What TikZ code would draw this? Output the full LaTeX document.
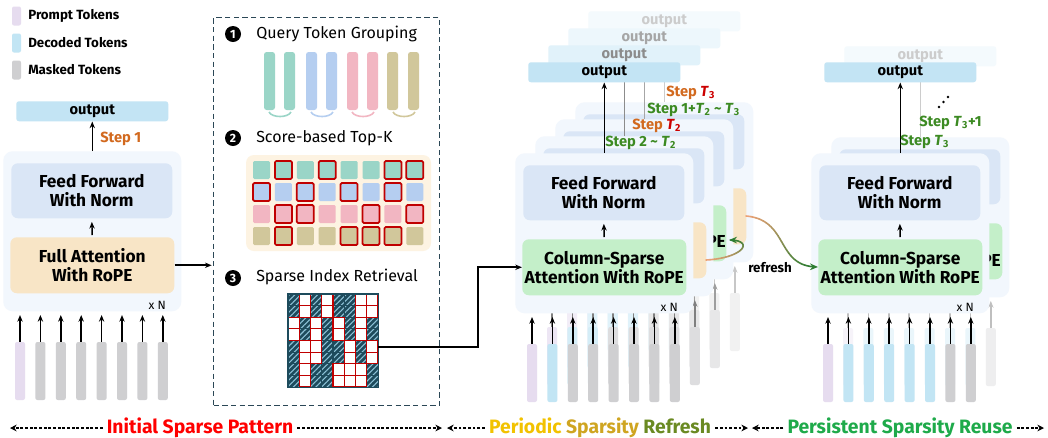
\documentclass[tikz,border=0pt]{standalone}
\usepackage{fontspec}
\setmainfont{Fira Sans}
\usetikzlibrary{arrows.meta,patterns.meta,calc}
\definecolor{contc}{HTML}{F2F7FD}
\definecolor{ffc}{HTML}{DAE6F6}
\definecolor{fac}{HTML}{F8E5C6}
\definecolor{csc}{HTML}{C4EFC9}
\definecolor{outc}{HTML}{C3E4F4}
\definecolor{tokP}{HTML}{E6DCEF}
\definecolor{tokD}{HTML}{C2E5F4}
\definecolor{tokM}{HTML}{CFCFD1}
\definecolor{stg}{HTML}{3C8A22}
\definecolor{sto}{HTML}{D2691E}
\definecolor{str}{HTML}{CC0000}
\definecolor{qa}{HTML}{9AD5C7}
\definecolor{qb}{HTML}{B5CEF0}
\definecolor{qc}{HTML}{F2B6C2}
\definecolor{qd}{HTML}{D1C79B}
\definecolor{selc}{HTML}{C00000}
\definecolor{gridc}{HTML}{1D4B5C}
\definecolor{hatchc}{HTML}{8EC3D8}
\definecolor{dashc}{HTML}{2B4756}
\definecolor{scbg}{HTML}{FDF3E2}
\definecolor{rfo}{HTML}{EBA277}
\definecolor{rfg}{HTML}{2E7D32}
\definecolor{redt}{HTML}{FF0000}
\definecolor{pery}{HTML}{F2C200}
\definecolor{spar}{HTML}{CFA521}
\definecolor{refr}{HTML}{6A8A22}
\definecolor{pers}{HTML}{1EAA4A}
\newcommand{\Tt}[2]{\textcolor{#1}{\textit{T}\textsubscript{#2}}}
% #1 prefix, #2 #3 shift, #4 attention fill, #5 attention text, #6 output y, #7 output fill, #8 output/arrow colour, #9 front flag
\newcommand{\blk}[9]{%
\begin{scope}[shift={(#2,#3)}, name prefix=#1]
\node[cont] (cont) at (0,0) {};
\node[ffb] (ff) at (8,12) {\ifnum#9=1 Feed Forward\\With Norm\fi};
\node[attb, fill=#4] (att) at (7,86) {#5};
\draw[arr, shorten >=2.5pt, shorten <=1.5pt] (att.north) -- (ff.south);
\ifnum#9=1 \node[xn] (xn) at (163,154) {x N};\fi
\node[outb, fill=#7, text=#8] (out) at (13,#6) {output};
\draw[arr, draw=#8] (cont.north) -- (cont.north |- out.south);
\end{scope}}
\newcommand{\tokrow}[6]{%
\begin{scope}[shift={(#2,#3)}, name prefix=#1]
\foreach \tc [count=\i from 0] in {#5}{
 \node[tok, fill=tok\tc!#4!white] (tk\i) at ({17+20.4*\i},220) {};
 \coordinate (ta\i) at ({17+20.4*\i},164);
 \draw[arr, draw=#6] (tk\i.north) -- (ta\i);
}
\end{scope}}
\begin{document}
\begin{tikzpicture}[x=0.75pt,y=-0.75pt,
 cont/.style={anchor=north west, minimum width=178*0.75pt, minimum height=160*0.75pt, rounded corners=7pt, fill=contc, inner sep=0pt},
 ffb/.style={anchor=north west, minimum width=161*0.75pt, minimum height=55*0.75pt, rounded corners=5pt, fill=ffc, align=center, inner sep=0pt, font=\bfseries\fontsize{13}{14.5}\selectfont},
 attb/.style={anchor=north west, minimum width=164*0.75pt, minimum height=56*0.75pt, rounded corners=5pt, align=center, inner sep=0pt, font=\bfseries\fontsize{13}{14.5}\selectfont},
 outb/.style={anchor=north west, minimum width=152*0.75pt, minimum height=20*0.75pt, rounded corners=2pt, inner sep=0pt, font=\bfseries\fontsize{11}{12}\selectfont},
 xn/.style={anchor=east, inner sep=0pt, font=\fontsize{9}{10}\selectfont},
 tok/.style={minimum width=10*0.75pt, minimum height=58*0.75pt, rounded corners=1.5pt, inner sep=0pt},
 arr/.style={line width=1.1pt, -{Stealth[length=5pt,width=4pt]}},
 lab/.style={anchor=west, inner sep=0pt, font=\bfseries\fontsize{11}{12}\selectfont},
 pe/.style={inner sep=0pt, font=\bfseries\fontsize{13}{14.5}\selectfont},
 legb/.style={minimum width=9*0.75pt, minimum height=19*0.75pt, rounded corners=1.5pt, inner sep=0pt},
 legt/.style={anchor=west, inner sep=0pt, font=\bfseries\fontsize{10}{12}\selectfont},
 hd/.style={anchor=west, inner sep=0pt, font=\fontsize{12}{14}\selectfont},
 numc/.style={circle, fill=black, text=white, inner sep=0pt, minimum size=16*0.75pt, font=\bfseries\fontsize{9}{10}\selectfont},
 bt/.style={inner sep=3pt, font=\bfseries\fontsize{14.5}{16}\selectfont},
 darr/.style={line width=0.8pt, dash pattern=on 2.2pt off 1.3pt, -{Stealth[length=5pt,width=5pt]}},
 declare function={bz(\ua,\ub,\uc,\ud,\ut)=(1-\ut)^3*\ua+3*(1-\ut)^2*\ut*\ub+3*(1-\ut)*\ut^2*\uc+\ut^3*\ud;}
]
\fill[white] (0,0) rectangle (1048,437);
\useasboundingbox (0,0) rectangle (1048,437);

% legend
\node[legb, fill=tokP] (lg1) at (16.5,16) {};
\node[legt] (lt1) at (28,16) {Prompt Tokens};
\node[legb, fill=tokD] (lg2) at (16.5,43) {};
\node[legt] (lt2) at (28,43) {Decoded Tokens};
\node[legb, fill=tokM] (lg3) at (16.5,70) {};
\node[legt] (lt3) at (28,70) {Masked Tokens};

% left block
\tokrow{L}{3}{151}{100}{P,M,M,M,M,M,M,M}{black}
\blk{L}{3}{151}{fac}{Full Attention\\With RoPE}{-50}{outc}{black}{1}
\node[lab, text=sto] (s1) at (100,139) {Step 1};

% middle dashed box
\node[draw=dashc, line width=1pt, dash pattern=on 4pt off 2.5pt, anchor=north west, minimum width=226*0.75pt, minimum height=388*0.75pt, inner sep=0pt] (mbox) at (213,17) {};
\node[numc] (n1) at (233,34) {1};
\node[hd] (h1) at (256,34) {Query Token Grouping};
\node[numc] (n2) at (233,138) {2};
\node[hd] (h2) at (256,138) {Score-based Top-K};
\node[numc] (n3) at (233,278) {3};
\node[hd] (h3) at (256,277) {Sparse Index Retrieval};

% query token groups
\foreach \x/\col in {264/qa,284/qa,306/qb,326/qb,347/qc,367/qc,387/qd,408/qd}
  \fill[\col, rounded corners=2pt] (\x,52) rectangle (\x+11,110);
\foreach \x/\col in {269/qa,311/qb,352/qc,393/qd}
  \draw[\col, line width=1.2pt] (\x,112) .. controls (\x+3,118) and (\x+19,118) .. (\x+22,112);

% score grid
\fill[scbg, rounded corners=6pt] (246,155) rectangle (431,251);
\foreach \r/\col in {0/qa,1/qb,2/qc,3/qd}
  \foreach \k in {0,...,7}
    \fill[\col, rounded corners=1pt] ({253+21.9*\k},{161+22*\r}) rectangle ++(17,18);
\foreach \k in {1,3,6,7} \draw[selc, line width=1.3pt, rounded corners=1pt] ({253+21.9*\k},161) rectangle ++(17,18);
\foreach \k in {0,2,4,6} \draw[selc, line width=1.3pt, rounded corners=1pt] ({253+21.9*\k},183) rectangle ++(17,18);
\foreach \k in {1,2,5,7} \draw[selc, line width=1.3pt, rounded corners=1pt] ({253+21.9*\k},205) rectangle ++(17,18);
\foreach \k in {1,4,5,6} \draw[selc, line width=1.3pt, rounded corners=1pt] ({253+21.9*\k},227) rectangle ++(17,18);

% sparse index grid
\node[anchor=north west, minimum width=90*0.75pt, minimum height=93*0.75pt, inner sep=0pt, fill=gridc] (sgrid) at (288,294) {};
\fill[pattern={Lines[angle=45,distance=3pt,line width=0.8pt]}, pattern color=hatchc] (288,294) rectangle (378,387);
\foreach \k in {1,...,7}{
  \draw[gridc, line width=0.9pt] ({288+11.25*\k},294) -- ++(0,93);
  \draw[gridc, line width=0.9pt] (288,{294+11.625*\k}) -- ++(90,0);
}
\foreach \r in {0,1} \foreach \k in {1,3,6,7} \draw[selc, fill=white, line width=0.9pt] ({288+11.25*\k},{294+11.625*\r}) rectangle ++(11.25,11.625);
\foreach \r in {2,3} \foreach \k in {0,2,4,6} \draw[selc, fill=white, line width=0.9pt] ({288+11.25*\k},{294+11.625*\r}) rectangle ++(11.25,11.625);
\foreach \r in {4,5} \foreach \k in {1,2,5,7} \draw[selc, fill=white, line width=0.9pt] ({288+11.25*\k},{294+11.625*\r}) rectangle ++(11.25,11.625);
\foreach \r in {6,7} \foreach \k in {1,4,5,6} \draw[selc, fill=white, line width=0.9pt] ({288+11.25*\k},{294+11.625*\r}) rectangle ++(11.25,11.625);
\draw[gridc, line width=1pt] (sgrid.north west) rectangle (sgrid.south east);

% center stack
\tokrow{C3}{575}{102}{30}{P,D,D,D,D,M,M,M}{black!22}
\blk{C3}{575}{102}{fac}{}{-91}{outc!18!white}{black!20}{0}
\tokrow{C2}{555}{119}{50}{P,D,D,D,M,M,M,M}{black!38}
\blk{C2}{555}{119}{csc}{}{-91}{outc!30!white}{black!35}{0}
\node[pe] (pe2) at (716,241) {PE};
\tokrow{C1}{535}{136}{70}{P,D,D,M,M,M,M,M}{black!50}
\blk{C1}{535}{136}{fac}{}{-91}{outc!50!white}{black!45}{0}
\tokrow{C0}{515}{153}{100}{P,D,M,M,M,M,M,M}{black}
\blk{C0}{515}{153}{csc}{Column-Sparse\\Attention With RoPE}{-91}{outc}{black}{1}

% right stack
\tokrow{R1}{831}{137}{35}{P,D,D,D,D,D,D,M}{black!25}
\blk{R1}{831}{137}{csc}{}{-91}{outc!18!white}{black!20}{0}
\node[pe] (pe3) at (991,260) {PE};
\tokrow{R0}{811}{153}{100}{P,D,D,D,D,D,M,M}{black}
\blk{R0}{811}{153}{csc}{Column-Sparse\\Attention With RoPE}{-91}{outc}{black}{1}

% connectors
\draw[arr, line width=1.3pt, shorten >=1pt] (Latt.east) -- (Latt.east -| mbox.west);
\coordinate (gout) at (378,347);
\coordinate (turn) at (478,347);
\draw[arr, line width=1.3pt] (gout) -- (turn) |- (C0att.west);

% refresh curves
\foreach \i in {0,...,23}{
  \pgfmathsetmacro{\ta}{\i/25}
  \pgfmathsetmacro{\tb}{(\i+1)/25}
  \pgfmathtruncatemacro{\mx}{100-\i*100/23}
  \draw[line width=1.2pt, line cap=round, color=rfo!\mx!rfg] plot[domain=\ta:\tb, samples=4, variable=\t] ({bz(746,790,775,818,\t)},{bz(216,220,267,267,\t)});
  \draw[line width=1.2pt, line cap=round, color=rfo!\mx!rfg] plot[domain=\ta:\tb, samples=4, variable=\t] ({bz(706,744,755,729,\t)},{bz(260,258,240,240,\t)});
}
\draw[line width=1.2pt, rfg, -{Stealth[length=6pt,width=5pt]}] plot[domain=0.96:1, samples=3, variable=\t] ({bz(746,790,775,818,\t)},{bz(216,220,267,267,\t)});
\draw[line width=1.2pt, rfg, -{Stealth[length=6pt,width=5pt]}] plot[domain=0.96:1, samples=3, variable=\t] ({bz(706,744,755,729,\t)},{bz(260,258,240,240,\t)});
\node[lab, font=\bfseries\fontsize{10}{12}\selectfont] (rf) at (748,268) {refresh};

% step labels
\node[lab] (lc1) at (666,93) {\textcolor{sto}{Step} \Tt{str}{3}};
\node[lab, text=stg] (lc2) at (647,110) {Step 1+\Tt{stg}{2} {\textasciitilde} \Tt{stg}{3}};
\node[lab] (lc3) at (632,126) {\textcolor{sto}{Step} \Tt{str}{2}};
\node[lab, text=stg] (lc4) at (605,143) {Step 2 {\textasciitilde} \Tt{stg}{2}};
\node[lab, text=stg] (lr1) at (919,123) {Step \Tt{stg}{3}+1};
\node[lab, text=stg] (lr2) at (900,142) {Step \Tt{stg}{3}};
\fill (939,107) circle (1pt);
\fill (943.5,102) circle (1pt);
\fill (948,97) circle (1pt);

% bottom legend line
\node[bt, text=redt] (bt1) at (200,428) {Initial Sparse Pattern};
\node[bt] (bt2) at (600,428) {\textcolor{pery}{Periodic} \textcolor{spar}{Sparsity} \textcolor{refr}{Refresh}};
\node[bt, text=pers] (bt3) at (900,428) {Persistent Sparsity Reuse};
\coordinate (a1) at (10,428);
\coordinate (a2) at (442,428);
\coordinate (a3) at (447,428);
\coordinate (a4) at (748,428);
\coordinate (a5) at (752,428);
\coordinate (a6) at (1044,428);
\draw[darr] (bt1.west) -- (a1);
\draw[darr] (bt1.east) -- (a2);
\draw[darr] (bt2.west) -- (a3);
\draw[darr] (bt2.east) -- (a4);
\draw[darr] (bt3.west) -- (a5);
\draw[darr] (bt3.east) -- (a6);
\end{tikzpicture}
\end{document}
